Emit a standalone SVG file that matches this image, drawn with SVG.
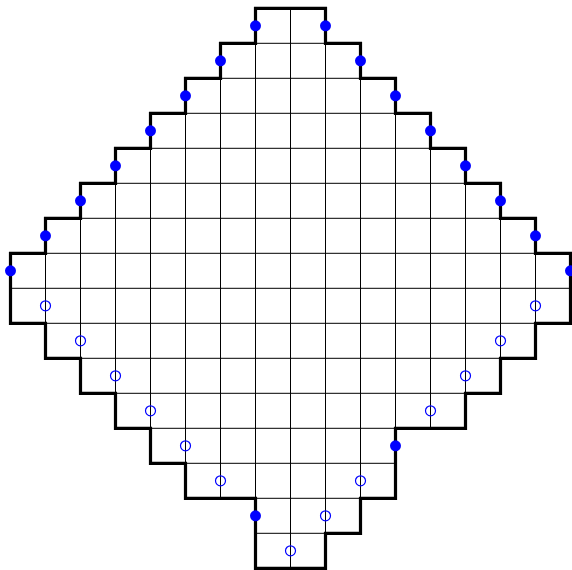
<svg xmlns="http://www.w3.org/2000/svg" width="572" height="570" viewBox="0 0 572 570">
<style>
.grid{stroke:#000;stroke-width:1;fill:none}
.outline{stroke:#000;stroke-width:3.2;fill:none;stroke-linejoin:miter}
.on{fill:#0000ff;stroke:none}
.off{fill:none;stroke:#0000ff;stroke-width:1.2}
</style>
<defs>
<clipPath id="shape">
<polygon points="245,0 315,0 315,35 350,35 350,70 385,70 385,105 420,105 420,140 455,140 455,175 490,175 490,210 525,210 525,245 560,245 560,315 525,315 525,350 490,350 490,385 455,385 455,420 385,420 385,490 350,490 350,525 315,525 315,560 245,560 245,490 175,490 175,455 140,455 140,420 105,420 105,385 70,385 70,350 35,350 35,315 0,315 0,245 35,245 35,210 70,210 70,175 105,175 105,140 140,140 140,105 175,105 175,70 210,70 210,35 245,35"/>
</clipPath>
</defs>
<rect width="572" height="570" fill="#fff"/>
<g transform="translate(10.5,8.3)">
<g id="grid" clip-path="url(#shape)">
<path class="grid" d="M35,0V560M70,0V560M105,0V560M140,0V560M175,0V560M210,0V560M245,0V560M280,0V560M315,0V560M350,0V560M385,0V560M420,0V560M455,0V560M490,0V560M525,0V560M0,35H560M0,70H560M0,105H560M0,140H560M0,175H560M0,210H560M0,245H560M0,280H560M0,315H560M0,350H560M0,385H560M0,420H560M0,455H560M0,490H560M0,525H560"/>
</g>
<g id="boundary">
<polygon class="outline" points="245,0 315,0 315,35 350,35 350,70 385,70 385,105 420,105 420,140 455,140 455,175 490,175 490,210 525,210 525,245 560,245 560,315 525,315 525,350 490,350 490,385 455,385 455,420 385,420 385,490 350,490 350,525 315,525 315,560 245,560 245,490 175,490 175,455 140,455 140,420 105,420 105,385 70,385 70,350 35,350 35,315 0,315 0,245 35,245 35,210 70,210 70,175 105,175 105,140 140,140 140,105 175,105 175,70 210,70 210,35 245,35"/>
</g>
<g id="filled-dots">
<circle class="on" cx="245" cy="17.5" r="5.5"/>
<circle class="on" cx="315" cy="17.5" r="5.5"/>
<circle class="on" cx="210" cy="52.5" r="5.5"/>
<circle class="on" cx="350" cy="52.5" r="5.5"/>
<circle class="on" cx="175" cy="87.5" r="5.5"/>
<circle class="on" cx="385" cy="87.5" r="5.5"/>
<circle class="on" cx="140" cy="122.5" r="5.5"/>
<circle class="on" cx="420" cy="122.5" r="5.5"/>
<circle class="on" cx="105" cy="157.5" r="5.5"/>
<circle class="on" cx="455" cy="157.5" r="5.5"/>
<circle class="on" cx="70" cy="192.5" r="5.5"/>
<circle class="on" cx="490" cy="192.5" r="5.5"/>
<circle class="on" cx="35" cy="227.5" r="5.5"/>
<circle class="on" cx="525" cy="227.5" r="5.5"/>
<circle class="on" cx="0" cy="262.5" r="5.5"/>
<circle class="on" cx="560" cy="262.5" r="5.5"/>
<circle class="on" cx="385" cy="437.5" r="5.5"/>
<circle class="on" cx="245" cy="507.5" r="5.5"/>
</g>
<g id="open-dots">
<circle class="off" cx="35" cy="297.5" r="5"/>
<circle class="off" cx="70" cy="332.5" r="5"/>
<circle class="off" cx="105" cy="367.5" r="5"/>
<circle class="off" cx="140" cy="402.5" r="5"/>
<circle class="off" cx="175" cy="437.5" r="5"/>
<circle class="off" cx="210" cy="472.5" r="5"/>
<circle class="off" cx="280" cy="542.5" r="5"/>
<circle class="off" cx="315" cy="507.5" r="5"/>
<circle class="off" cx="350" cy="472.5" r="5"/>
<circle class="off" cx="420" cy="402.5" r="5"/>
<circle class="off" cx="455" cy="367.5" r="5"/>
<circle class="off" cx="490" cy="332.5" r="5"/>
<circle class="off" cx="525" cy="297.5" r="5"/>
</g>
</g>
</svg>
